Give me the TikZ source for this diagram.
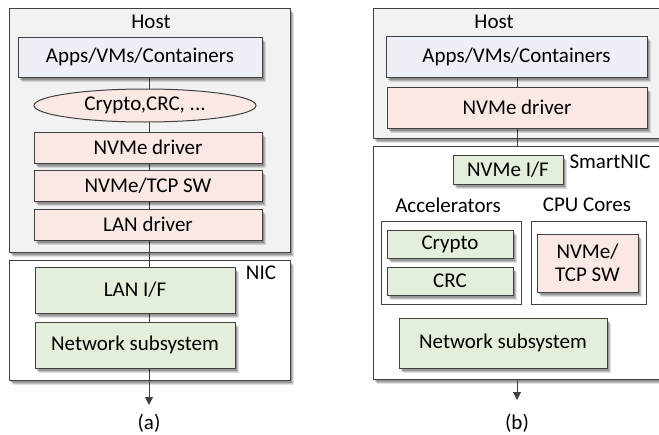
\documentclass[tikz,border=0pt]{standalone}
\usepackage{fontspec}
\setmainfont{Carlito}
\usepackage{tikz}
\usetikzlibrary{shapes.geometric, shadows, arrows.meta}

\definecolor{hostgray}{RGB}{242,242,242}
\definecolor{appsblue}{RGB}{238,240,248}
\definecolor{swpink}{RGB}{249,232,227}
\definecolor{hwgreen}{RGB}{227,239,219}
\definecolor{edge}{RGB}{64,64,64}

\pgfdeclarelayer{back}
\pgfdeclarelayer{mid}
\pgfsetlayers{back,mid,main}

\begin{document}
\begin{tikzpicture}[
    x=1pt, y=-1pt,
    font=\fontsize{21}{25}\selectfont,
    shade/.style={
        drop shadow={shadow xshift=4pt, shadow yshift=-5pt, opacity=0.12, fill=black},
        drop shadow={shadow xshift=3pt, shadow yshift=-4pt, opacity=0.15, fill=black},
        drop shadow={shadow xshift=2pt, shadow yshift=-2.5pt, opacity=0.2, fill=black}},
    box/.style={rectangle, draw=edge, line width=1pt, inner sep=0pt, shade},
    group/.style={rectangle, draw=edge, line width=1pt, inner sep=0pt, fill=white},
    apps/.style={box, fill=appsblue},
    sw/.style={box, fill=swpink},
    hw/.style={box, fill=hwgreen},
    wire/.style={line width=1pt, color=edge},
    arr/.style={wire, -{Triangle[width=8pt, length=8pt]}}
]

\useasboundingbox (0,0) rectangle (659,434);
\clip (0,0) rectangle (659,434);

% Host and NIC (left)
\begin{pgfonlayer}{back}
\node[box, fill=hostgray, minimum width=281pt, minimum height=244pt] (host) at (149.5,130) {};
\node[box, fill=white, minimum width=281pt, minimum height=120pt] (nic) at (149.5,320) {};
\end{pgfonlayer}
\node (hostlbl) at (151,22) {Host};
\node (niclbl) at (261,273) {NIC};

% Software stack
\node[apps, minimum width=244pt, minimum height=40pt] (apps) at (140,57) {Apps/VMs/Containers};
\node[ellipse, draw=edge, line width=1pt, fill=swpink, inner sep=0pt,
      minimum width=222pt, minimum height=33pt] (crypto) at (145,105.5) {Crypto,CRC, ...};
\node[sw, minimum width=228pt, minimum height=31pt] (nvmedrv) at (148,147.5) {NVMe driver};
\node[sw, minimum width=228pt, minimum height=31pt] (tcpsw) at (148,185.5) {NVMe/TCP SW};
\node[sw, minimum width=228pt, minimum height=31pt] (landrv) at (148,224.5) {LAN driver};

% NIC blocks
\node[hw, minimum width=200pt, minimum height=46pt] (lanif) at (135,290) {LAN I/F};
\node[hw, minimum width=200pt, minimum height=46pt] (netsub) at (135,345) {Network subsystem};

% Data path
\coordinate (aend) at (149,405);
\begin{pgfonlayer}{mid}
\draw[arr] (apps.south -| aend) -- (aend);
\end{pgfonlayer}
\node (alabel) at (149,423) {(a)};

% Host and SmartNIC (right)
\begin{pgfonlayer}{back}
\node[box, fill=hostgray, minimum width=297pt, minimum height=130pt] (host2) at (521.5,73) {};
\node[box, fill=white, minimum width=297pt, minimum height=233pt] (smartnic) at (521.5,262.5) {};
\end{pgfonlayer}
\node (host2lbl) at (494,22) {Host};
\node (snlbl) at (610,162) {SmartNIC};

\node[apps, minimum width=261pt, minimum height=41pt] (apps2) at (516.5,56.5) {Apps/VMs/Containers};
\node[sw, minimum width=260pt, minimum height=41pt] (nvmedrv2) at (517,107.5) {NVMe driver};

% SmartNIC blocks
\node[hw, minimum width=110pt, minimum height=29pt] (nvmeif) at (508,169.5) {NVMe I/F};
\node (acclbl) at (448,205) {Accelerators};
\node (cpulbl) at (587,205) {CPU Cores};
\node[group, minimum width=140pt, minimum height=83pt] (accbox) at (451,262.5) {};
\node[group, minimum width=115pt, minimum height=83pt] (cpubox) at (588.5,262.5) {};
\node[hw, minimum width=126pt, minimum height=28pt] (crypto2) at (450,244) {Crypto};
\node[hw, minimum width=126pt, minimum height=28pt] (crc) at (450,281) {CRC};
\node[sw, minimum width=101pt, minimum height=58pt, align=center,
      font=\fontsize{21}{23}\selectfont] (tcpsw2) at (587.5,263) {NVMe/\\TCP SW};
\node[hw, minimum width=208pt, minimum height=50pt] (netsub2) at (503,343) {Network subsystem};

% Data path
\coordinate (bend) at (517,400);
\begin{pgfonlayer}{mid}
\draw[wire] (apps2.south -| bend) -- (smartnic.north -| bend);
\end{pgfonlayer}
\draw[arr] (smartnic.south -| bend) -- (bend);
\node (blabel) at (517,423) {(b)};

\end{tikzpicture}
\end{document}
